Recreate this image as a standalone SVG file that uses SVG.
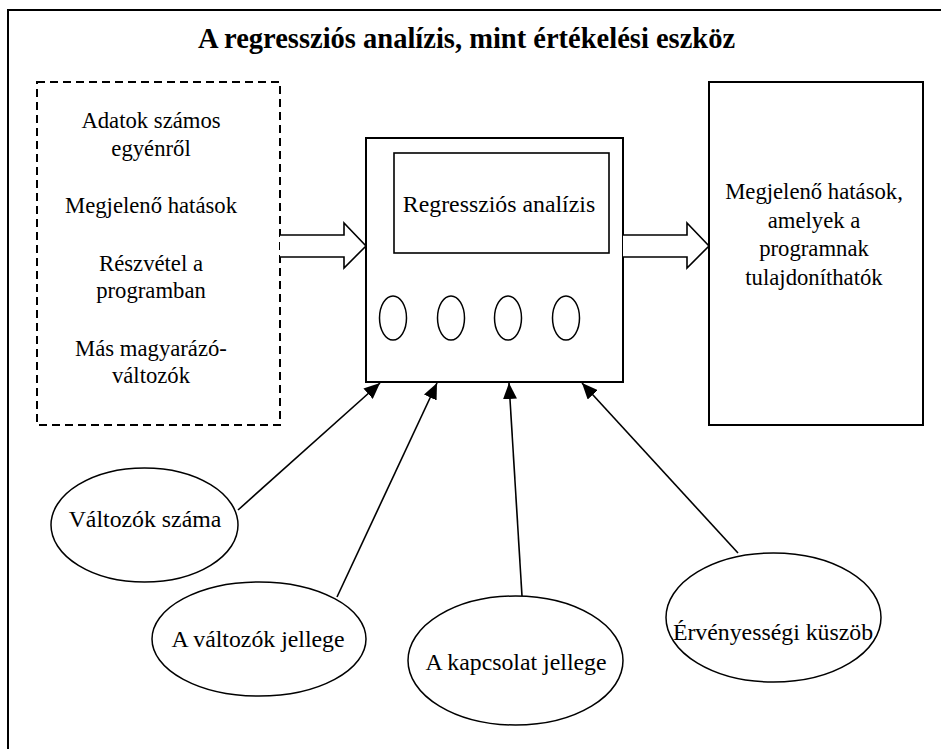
<svg xmlns="http://www.w3.org/2000/svg" width="941" height="749" viewBox="0 0 941 749">
<style>
text{font-family:"Liberation Serif","Times New Roman",serif;fill:#000;text-anchor:middle}
.bx{font-size:22.7px}
.el{font-size:23.8px}
.ttl{font-size:28.5px;font-weight:bold}
.s{fill:#fff;stroke:#000}
.c{stroke:#000;stroke-width:1.6;fill:none}
</style>
<defs>
<marker id="ah" viewBox="0 0 16 14" refX="16" refY="7" markerWidth="16" markerHeight="14" markerUnits="userSpaceOnUse" orient="auto">
<path d="M0,0 L16,7 L0,14 Z" fill="#000"/>
</marker>
</defs>
<rect x="0" y="0" width="941" height="749" fill="#fff"/>
<rect id="frame" x="8" y="10" width="945" height="750" fill="#fff" stroke="#000" stroke-width="2"/>
<text id="title" class="ttl" x="466.5" y="48">A regressziós analízis, mint értékelési eszköz</text>

<g id="inputs">
<rect x="37" y="82" width="243" height="343" fill="#fff" stroke="#000" stroke-width="2" stroke-dasharray="8,5"/>
<text class="bx" x="151" y="128">Adatok számos</text>
<text class="bx" x="151" y="156">egyénről</text>
<text class="bx" x="151" y="213">Megjelenő hatások</text>
<text class="bx" x="151" y="271">Részvétel a</text>
<text class="bx" x="151" y="298">programban</text>
<text class="bx" x="151" y="356">Más magyarázó-</text>
<text class="bx" x="151" y="383">változók</text>
</g>

<g id="analysis">
<rect class="s" x="366" y="138" width="257" height="244" stroke-width="2"/>
<rect class="s" x="394" y="153" width="215" height="100" stroke-width="1.6"/>
<text class="el" x="499" y="212">Regressziós analízis</text>
<ellipse class="s" cx="393" cy="318" rx="13.5" ry="22" stroke-width="1.5"/>
<ellipse class="s" cx="451" cy="318" rx="13.5" ry="22" stroke-width="1.5"/>
<ellipse class="s" cx="508" cy="318" rx="13.5" ry="22" stroke-width="1.5"/>
<ellipse class="s" cx="566" cy="318" rx="13.5" ry="22" stroke-width="1.5"/>
</g>

<g id="outputs">
<rect class="s" x="709" y="82" width="214" height="343" stroke-width="2"/>
<text class="bx" x="814" y="199">Megjelenő hatások,</text>
<text class="bx" x="814" y="228">amelyek a</text>
<text class="bx" x="814" y="256">programnak</text>
<text class="bx" x="814" y="285">tulajdoníthatók</text>
</g>

<g id="n1"><ellipse class="s" cx="144.5" cy="525" rx="93.5" ry="57" stroke-width="1.5"/><text class="el" x="145" y="527">Változók száma</text></g>
<g id="n2"><ellipse class="s" cx="259" cy="639" rx="107" ry="57" stroke-width="1.5"/><text class="el" x="258" y="647">A változók jellege</text></g>
<g id="n3"><ellipse class="s" cx="515.5" cy="660.5" rx="107.5" ry="64.5" stroke-width="1.5"/><text class="el" x="516" y="670">A kapcsolat jellege</text></g>
<g id="n4"><ellipse class="s" cx="773.5" cy="617.5" rx="107.5" ry="64.5" stroke-width="1.5"/><text class="el" x="773" y="640">Érvényességi küszöb</text></g>

<g id="connectors">
<path d="M280,235 H344 V223 L366,246 L344,268 V257 H280" fill="#fff" stroke="#000" stroke-width="1.6"/>
<path d="M623,235 H687 V223 L709,246 L687,268 V257 H623" fill="#fff" stroke="#000" stroke-width="1.6"/>
<line class="c" x1="238" y1="510" x2="380" y2="383" marker-end="url(#ah)"/>
<line class="c" x1="337" y1="597" x2="437" y2="383" marker-end="url(#ah)"/>
<line class="c" x1="522" y1="596" x2="509" y2="383" marker-end="url(#ah)"/>
<line class="c" x1="738" y1="553" x2="582" y2="383" marker-end="url(#ah)"/>
</g>
</svg>
